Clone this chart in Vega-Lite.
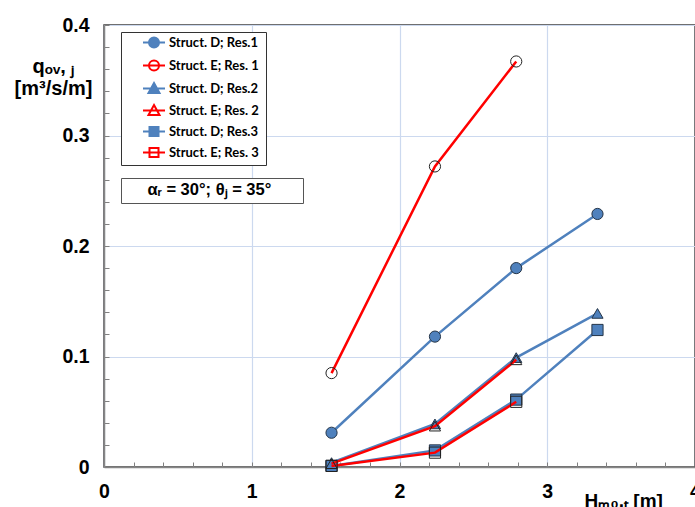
{
  "$schema": "https://vega.github.io/schema/vega-lite/v6.json",
  "width": 591,
  "height": 442,
  "autosize": "none",
  "padding": {"left": 104, "top": 25, "right": 0, "bottom": 40},
  "background": "white",
  "config": {
    "view": {"stroke": "#404040", "strokeWidth": 1.5},
    "axis": {
      "labelFont": "Liberation Sans",
      "labelFontWeight": "bold",
      "labelFontSize": 19.5,
      "labelColor": "black",
      "titleFont": "Liberation Sans",
      "titleFontWeight": "bold",
      "titleColor": "black",
      "domainColor": "#868686",
      "domainWidth": 1.5,
      "ticks": true,
      "tickColor": "#808080",
      "tickWidth": 1
    }
  },
  "datasets": {
    "pts": [
      {"struct": "D", "res": "1", "series": "Struct. D; Res.1", "x": 1.54, "q": 0.031},
      {"struct": "D", "res": "1", "series": "Struct. D; Res.1", "x": 2.24, "q": 0.118},
      {"struct": "D", "res": "1", "series": "Struct. D; Res.1", "x": 2.79, "q": 0.180},
      {"struct": "D", "res": "1", "series": "Struct. D; Res.1", "x": 3.34, "q": 0.229},
      {"struct": "E", "res": "1", "series": "Struct. E; Res. 1", "x": 1.54, "q": 0.085},
      {"struct": "E", "res": "1", "series": "Struct. E; Res. 1", "x": 2.24, "q": 0.272},
      {"struct": "E", "res": "1", "series": "Struct. E; Res. 1", "x": 2.79, "q": 0.367},
      {"struct": "D", "res": "2", "series": "Struct. D; Res.2", "x": 1.54, "q": 0.004},
      {"struct": "D", "res": "2", "series": "Struct. D; Res.2", "x": 2.24, "q": 0.039},
      {"struct": "D", "res": "2", "series": "Struct. D; Res.2", "x": 2.79, "q": 0.099},
      {"struct": "D", "res": "2", "series": "Struct. D; Res.2", "x": 3.34, "q": 0.139},
      {"struct": "E", "res": "2", "series": "Struct. E; Res. 2", "x": 1.54, "q": 0.003},
      {"struct": "E", "res": "2", "series": "Struct. E; Res. 2", "x": 2.24, "q": 0.037},
      {"struct": "E", "res": "2", "series": "Struct. E; Res. 2", "x": 2.79, "q": 0.097},
      {"struct": "D", "res": "3", "series": "Struct. D; Res.3", "x": 1.54, "q": 0.001},
      {"struct": "D", "res": "3", "series": "Struct. D; Res.3", "x": 2.24, "q": 0.015},
      {"struct": "D", "res": "3", "series": "Struct. D; Res.3", "x": 2.79, "q": 0.061},
      {"struct": "D", "res": "3", "series": "Struct. D; Res.3", "x": 3.34, "q": 0.124},
      {"struct": "E", "res": "3", "series": "Struct. E; Res. 3", "x": 1.54, "q": 0.001},
      {"struct": "E", "res": "3", "series": "Struct. E; Res. 3", "x": 2.24, "q": 0.013},
      {"struct": "E", "res": "3", "series": "Struct. E; Res. 3", "x": 2.79, "q": 0.059}
    ]
  },
  "data": {"name": "pts"},
  "layer": [
    {
      "transform": [{"filter": "datum.struct == 'D'"}],
      "mark": {"type": "line", "color": "#4f81bd", "strokeWidth": 2.5},
      "encoding": {
        "x": {
          "field": "x", "type": "quantitative",
          "scale": {"domain": [0, 4], "nice": false},
          "axis": {
            "values": [0, 0.2, 0.4, 0.6, 0.8, 1, 1.2, 1.4, 1.6, 1.8, 2, 2.2, 2.4, 2.6, 2.8, 3, 3.2, 3.4, 3.6, 3.8, 4],
            "tickCount": 100,
            "labelOverlap": false,
            "labelExpr": "abs(datum.value - round(datum.value)) < 0.001 ? format(datum.value, 'd') : ''",
            "grid": true,
            "gridColor": "#ccd9ef",
            "gridWidth": 1.2,
            "gridOpacity": {"condition": {"test": "abs(datum.value - round(datum.value)) < 0.001", "value": 1}, "value": 0},
            "tickSize": -5,
            "labelPadding": 20,
            "labelFlush": false,
            "title": "Hₘ₀,ₜ  [m]",
            "titleFontSize": 19,
            "titleAlign": "left",
            "titleAnchor": "start",
            "titleBaseline": "alphabetic",
            "titleX": 480,
            "titleY": 39
          }
        },
        "y": {
          "field": "q", "type": "quantitative",
          "scale": {"domain": [0, 0.4], "nice": false},
          "axis": {
            "values": [0, 0.02, 0.04, 0.06, 0.08, 0.1, 0.12, 0.14, 0.16, 0.18, 0.2, 0.22, 0.24, 0.26, 0.28, 0.3, 0.32, 0.34, 0.36, 0.38, 0.4],
            "tickCount": 100,
            "labelOverlap": false,
            "labelExpr": "abs(datum.value * 10 - round(datum.value * 10)) < 0.001 ? (datum.value == 0 ? '0' : format(datum.value, '.1f')) : ''",
            "grid": true,
            "gridColor": "#ccd9ef",
            "gridWidth": 1.2,
            "gridOpacity": {"condition": {"test": "abs(datum.value * 10 - round(datum.value * 10)) < 0.001", "value": 1}, "value": 0},
            "tickSize": -5,
            "labelPadding": 20,
            "labelFlush": false,
            "title": ["qₒᵥ, ⱼ", "[m³/s/m]"],
            "titleFontSize": 20,
            "titleAngle": 0,
            "titleAlign": "center",
            "titleBaseline": "top",
            "titleLineHeight": 22,
            "titleX": -51,
            "titleY": 31
          }
        },
        "detail": {"field": "res"}
      }
    },
    {
      "transform": [{"filter": "datum.struct == 'D' && datum.res == '1'"}],
      "mark": {"type": "point", "shape": "circle", "filled": true, "fill": "#4f81bd", "opacity": 1, "fillOpacity": 1, "stroke": "#253548", "strokeWidth": 1, "strokeOpacity": 1, "size": 125},
      "encoding": {"x": {"field": "x", "type": "quantitative"}, "y": {"field": "q", "type": "quantitative"}}
    },
    {
      "transform": [{"filter": "datum.struct == 'D' && datum.res == '2'"}],
      "mark": {"type": "point", "shape": "triangle-up", "filled": true, "fill": "#4f81bd", "opacity": 1, "fillOpacity": 1, "stroke": "#253548", "strokeWidth": 1, "strokeOpacity": 1, "size": 125},
      "encoding": {"x": {"field": "x", "type": "quantitative"}, "y": {"field": "q", "type": "quantitative"}}
    },
    {
      "transform": [{"filter": "datum.struct == 'D' && datum.res == '3'"}],
      "mark": {"type": "point", "shape": "square", "filled": true, "fill": "#4f81bd", "opacity": 1, "fillOpacity": 1, "stroke": "#253548", "strokeWidth": 1, "strokeOpacity": 1, "size": 125},
      "encoding": {"x": {"field": "x", "type": "quantitative"}, "y": {"field": "q", "type": "quantitative"}}
    },
    {
      "transform": [{"filter": "datum.struct == 'E'"}],
      "mark": {"type": "line", "color": "#ff0000", "strokeWidth": 2.5},
      "encoding": {
        "x": {"field": "x", "type": "quantitative"},
        "y": {"field": "q", "type": "quantitative"},
        "detail": {"field": "res"}
      }
    },
    {
      "transform": [{"filter": "datum.struct == 'E' && datum.res == '1'"}],
      "mark": {"type": "point", "shape": "circle", "filled": false, "opacity": 1, "stroke": "#222222", "strokeWidth": 1, "strokeOpacity": 1, "size": 125},
      "encoding": {"x": {"field": "x", "type": "quantitative"}, "y": {"field": "q", "type": "quantitative"}}
    },
    {
      "transform": [{"filter": "datum.struct == 'E' && datum.res == '2'"}],
      "mark": {"type": "point", "shape": "triangle-up", "filled": false, "opacity": 1, "stroke": "#222222", "strokeWidth": 1, "strokeOpacity": 1, "size": 125},
      "encoding": {"x": {"field": "x", "type": "quantitative"}, "y": {"field": "q", "type": "quantitative"}}
    },
    {
      "transform": [{"filter": "datum.struct == 'E' && datum.res == '3'"}],
      "mark": {"type": "point", "shape": "square", "filled": false, "opacity": 1, "stroke": "#222222", "strokeWidth": 1, "strokeOpacity": 1, "size": 125},
      "encoding": {"x": {"field": "x", "type": "quantitative"}, "y": {"field": "q", "type": "quantitative"}}
    },
    {
      "transform": [{"filter": "false"}],
      "mark": {"type": "point", "filled": true, "opacity": 1},
      "encoding": {
        "shape": {
          "field": "series", "type": "nominal",
          "scale": {
            "domain": ["Struct. D; Res.1", "Struct. E; Res. 1", "Struct. D; Res.2", "Struct. E; Res. 2", "Struct. D; Res.3", "Struct. E; Res. 3"],
            "range": [
              "M-2.2,0H-1M1,0H2.2M-1,0A1,1,0,1,1,1,0A1,1,0,1,1,-1,0Z",
              "M-2.2,0H2.2M-1,0A1,1,0,1,1,1,0A1,1,0,1,1,-1,0Z",
              "M-2.2,0H-0.6M0.6,0H2.2M0,-1.1L1.1,0.9L-1.1,0.9Z",
              "M-2.2,0H2.2M0,-1.1L1.1,0.9L-1.1,0.9Z",
              "M-2.2,0H-0.9M0.9,0H2.2M-0.9,-0.9H0.9V0.9H-0.9Z",
              "M-2.2,0H2.2M-0.9,-0.9H0.9V0.9H-0.9Z"
            ]
          },
          "legend": {
            "title": null,
            "orient": "none",
            "legendX": 17,
            "legendY": 7,
            "padding": 4,
            "rowPadding": 4,
            "symbolSize": 100,
            "symbolOpacity": 1,
            "symbolStrokeWidth": 2,
            "symbolOffset": 22.5,
            "labelOffset": 8.5,
            "labelFont": "Lato",
            "labelFontWeight": "bold",
            "labelFontSize": 13,
            "labelColor": "black",
            "labelExpr": "datum.label + '\u00a0\u200b'",
            "strokeColor": "#333333",
            "fillColor": "white"
          }
        },
        "fill": {
          "field": "series", "type": "nominal",
          "scale": {
            "domain": ["Struct. D; Res.1", "Struct. E; Res. 1", "Struct. D; Res.2", "Struct. E; Res. 2", "Struct. D; Res.3", "Struct. E; Res. 3"],
            "range": ["#4f81bd", "white", "#4f81bd", "white", "#4f81bd", "white"]
          }
        },
        "stroke": {
          "field": "series", "type": "nominal",
          "scale": {
            "domain": ["Struct. D; Res.1", "Struct. E; Res. 1", "Struct. D; Res.2", "Struct. E; Res. 2", "Struct. D; Res.3", "Struct. E; Res. 3"],
            "range": ["#4f81bd", "#ff0000", "#4f81bd", "#ff0000", "#4f81bd", "#ff0000"]
          }
        },
        "strokeDash": {
          "field": "note", "type": "nominal",
          "scale": {"domain": ["αᵣ = 30°; θⱼ = 35°"], "range": [[1, 0]]},
          "legend": {
            "title": null,
            "orient": "none",
            "legendX": 17,
            "legendY": 153,
            "padding": 4,
            "symbolSize": 0,
            "symbolOpacity": 0,
            "symbolStrokeWidth": 0,
            "labelOffset": 6,
            "labelLimit": 400,
            "labelFont": "Liberation Sans",
            "labelFontWeight": "bold",
            "labelFontSize": 16.5,
            "labelColor": "black",
            "labelExpr": "datum.label + '\u00a0\u00a0\u00a0\u00a0\u00a0\u00a0\u200b'",
            "strokeColor": "#555555",
            "fillColor": "white"
          }
        }
      }
    }
  ]
}
